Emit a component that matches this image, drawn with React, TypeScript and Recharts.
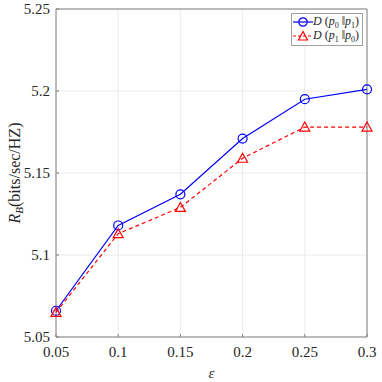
import React from 'react';
import {
  LineChart,
  Line,
  XAxis,
  YAxis,
  CartesianGrid,
  ReferenceArea,
} from 'recharts';

// epsilon values on the x axis
const epsilons = [0.05, 0.1, 0.15, 0.2, 0.25, 0.3];
// D(p0||p1) — blue, solid, circles
const dP0P1 = [5.066, 5.118, 5.137, 5.171, 5.195, 5.201];
// D(p1||p0) — red, dashed, triangles
const dP1P0 = [5.065, 5.113, 5.129, 5.159, 5.178, 5.178];

const xTicks = [0.05, 0.1, 0.15, 0.2, 0.25, 0.3];
const yTicks = [5.05, 5.1, 5.15, 5.2, 5.25];

const FONT = 'Liberation Serif';
const TEXT = '#262626';
const BOX = '#808080';

const data = epsilons.map((e, i) => ({ eps: e, a: dP0P1[i], b: dP1P0[i] }));

const fmt = (v: number) => String(Number(v.toFixed(2)));

function XTick(props: any) {
  const { x, y, payload } = props;
  const axisY = y - 9;
  return (
    <g>
      <line x1={x} x2={x} y1={axisY} y2={axisY - 3} stroke={BOX} />
      <text
        x={x}
        y={y}
        dy='0.75em'
        textAnchor='middle'
        fontFamily={FONT}
        fontSize={15}
        fill={TEXT}
      >
        {fmt(payload.value)}
      </text>
    </g>
  );
}

function YTick(props: any) {
  const { x, y, payload } = props;
  const axisX = x + 6;
  return (
    <g>
      <line x1={axisX} x2={axisX + 3} y1={y} y2={y} stroke={BOX} />
      <text
        x={x}
        y={y}
        dy='0.35em'
        textAnchor='end'
        fontFamily={FONT}
        fontSize={15}
        fill={TEXT}
      >
        {fmt(payload.value)}
      </text>
    </g>
  );
}

function YLabel({ viewBox }: any) {
  const cx = viewBox.x + 20;
  const cy = viewBox.y + viewBox.height / 2;
  return (
    <text
      x={cx}
      y={cy}
      transform={`rotate(-90 ${cx} ${cy})`}
      textAnchor='middle'
      fontFamily={FONT}
      fontSize={16}
      fill={TEXT}
    >
      <tspan fontStyle='italic'>R</tspan>
      <tspan fontStyle='italic' fontSize={11} dy={3}>
        B
      </tspan>
      <tspan dy={-3}>(bits/sec/HZ)</tspan>
    </text>
  );
}

function XLabel({ viewBox }: any) {
  const cx = viewBox.x + viewBox.width / 2;
  return (
    <text
      x={cx}
      y={viewBox.y + 41}
      textAnchor='middle'
      fontFamily={FONT}
      fontStyle='italic'
      fontSize={15}
      fill={TEXT}
    >
      ε
    </text>
  );
}

function Triangle(props: any) {
  const { cx, cy, index } = props;
  if (cx == null || cy == null) return <g key={`t${index}`} />;
  return (
    <path
      key={`t${index}`}
      d={`M${cx},${cy - 5} L${cx - 5},${cy + 4} L${cx + 5},${cy + 4} Z`}
      fill='none'
      stroke='#ff0000'
      strokeWidth={1.2}
    />
  );
}

function divLabel(a: string, b: string) {
  const sub = { fontSize: 8, position: 'relative' as const, top: 3 };
  return (
    <span style={{ whiteSpace: 'nowrap' }}>
      <i>D</i>&nbsp;(<i>p</i>
      <span style={sub}>{a}</span>&nbsp;‖<i>p</i>
      <span style={sub}>{b}</span>)
    </span>
  );
}

function LegendBox() {
  return (
    <div
      style={{
        position: 'absolute',
        left: 291,
        top: 13,
        border: '1px solid #a0a0a0',
        background: '#fff',
        padding: '1px 3px 2px 1px',
        fontFamily: FONT,
        fontSize: 12,
        color: TEXT,
        lineHeight: '13px',
      }}
    >
      <div style={{ display: 'flex', alignItems: 'center' }}>
        <svg width={20} height={12}>
          <line x1={0} x2={20} y1={6} y2={6} stroke='#0000ff' strokeWidth={1.2} />
          <circle cx={10} cy={6} r={4.2} fill='none' stroke='#0000ff' strokeWidth={1.2} />
        </svg>
        {divLabel('0', '1')}
      </div>
      <div style={{ display: 'flex', alignItems: 'center' }}>
        <svg width={20} height={12}>
          <line x1={0} x2={20} y1={6} y2={6} stroke='#ff0000' strokeWidth={1.2} strokeDasharray='3 2' />
          <path d='M10,1.5 L5.5,10 L14.5,10 Z' fill='none' stroke='#ff0000' strokeWidth={1.2} />
        </svg>
        {divLabel('1', '0')}
      </div>
    </div>
  );
}

export default function App() {
  return (
    <div
      style={{
        position: 'absolute',
        left: 0,
        top: 0,
        width: 382,
        height: 382,
        background: '#fff',
        fontFamily: FONT,
      }}
    >
      <LineChart
        width={382}
        height={382}
        data={data}
        margin={{ top: 9, right: 15, left: 0, bottom: 0 }}
      >
        <CartesianGrid stroke='#ebebeb' />
        <XAxis
          dataKey='eps'
          type='number'
          domain={[0.05, 0.3]}
          ticks={xTicks}
          height={45}
          tick={<XTick />}
          tickLine={false}
          tickSize={6}
          tickMargin={3}
          axisLine={false}
          label={<XLabel />}
        />
        <YAxis
          type='number'
          domain={[5.05, 5.25]}
          ticks={yTicks}
          width={56}
          tick={<YTick />}
          tickLine={false}
          tickSize={6}
          tickMargin={0}
          axisLine={false}
          label={<YLabel />}
        />
        <ReferenceArea
          x1={0.05}
          x2={0.3}
          y1={5.05}
          y2={5.25}
          fill='none'
          stroke={BOX}
          strokeWidth={1}
        />
        <Line
          dataKey='a'
          stroke='#0000ff'
          strokeWidth={1.2}
          dot={{ r: 4.5, fill: 'none', stroke: '#0000ff', strokeWidth: 1.2 }}
          isAnimationActive={false}
        />
        <Line
          dataKey='b'
          stroke='#ff0000'
          strokeWidth={1.2}
          strokeDasharray='4 3'
          dot={<Triangle />}
          isAnimationActive={false}
        />
      </LineChart>
      <LegendBox />
    </div>
  );
}
